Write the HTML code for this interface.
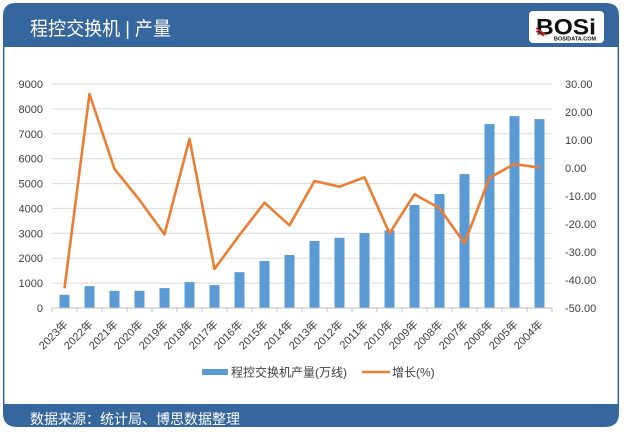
<!DOCTYPE html>
<html><head><meta charset="utf-8">
<style>
html,body{margin:0;padding:0;background:#fff;}
svg{display:block;}
text{font-family:"Liberation Sans","Noto Sans CJK SC",sans-serif;}
</style></head>
<body>
<svg width="624" height="432" viewBox="0 0 624 432" xmlns="http://www.w3.org/2000/svg">
<rect width="624" height="432" fill="#fff"/>
<!-- frame -->
<path d="M3,47 L3,16 Q3,3 16,3 L606,3 Q619,3 619,16 L619,47 Z" fill="#35669d"/>
<line x1="3.7" y1="47" x2="3.7" y2="405" stroke="#35669d" stroke-width="1.5"/>
<line x1="618.3" y1="47" x2="618.3" y2="405" stroke="#35669d" stroke-width="1.5"/>
<path d="M3,404 L619,404 L619,413 Q619,427 605,427 L17,427 Q3,427 3,413 Z" fill="#35669d"/>
<text x="30" y="35" font-size="19" fill="#fff" textLength="141" lengthAdjust="spacingAndGlyphs">程控交换机 | 产量</text>
<text x="30" y="424" font-size="14" fill="#fff">数据来源：统计局、博思数据整理</text>
<!-- logo -->
<rect x="529" y="11" width="75" height="32" rx="4" fill="#fff"/>
<text x="566" y="34.5" font-size="22" font-weight="bold" fill="#111" text-anchor="middle" textLength="60" lengthAdjust="spacingAndGlyphs">BOSi</text>
<path d="M536,28 L546,35 M536,31 L544,36" stroke="#c0302c" stroke-width="1.5"/>
<text x="575" y="40.5" font-size="5.5" font-weight="bold" fill="#111" text-anchor="middle">BOSIDATA.COM</text>
<!-- gridlines -->
<g stroke="#d9d9d9" stroke-width="1">
<line x1="52" y1="84" x2="552" y2="84"/>
<line x1="52" y1="108.9" x2="552" y2="108.9"/>
<line x1="52" y1="133.8" x2="552" y2="133.8"/>
<line x1="52" y1="158.7" x2="552" y2="158.7"/>
<line x1="52" y1="183.6" x2="552" y2="183.6"/>
<line x1="52" y1="208.4" x2="552" y2="208.4"/>
<line x1="52" y1="233.3" x2="552" y2="233.3"/>
<line x1="52" y1="258.2" x2="552" y2="258.2"/>
<line x1="52" y1="283.1" x2="552" y2="283.1"/>
</g>
<!-- bars -->
<g fill="#5b9bd5">
<rect x="59.5" y="294.8" width="10" height="13.2"/>
<rect x="84.5" y="286.1" width="10" height="21.9"/>
<rect x="109.5" y="290.8" width="10" height="17.2"/>
<rect x="134.5" y="290.8" width="10" height="17.2"/>
<rect x="159.5" y="288.1" width="10" height="19.9"/>
<rect x="184.5" y="282.1" width="10" height="25.9"/>
<rect x="209.5" y="285.1" width="10" height="22.9"/>
<rect x="234.5" y="272.2" width="10" height="35.8"/>
<rect x="259.5" y="261.0" width="10" height="47.0"/>
<rect x="284.5" y="255.0" width="10" height="53.0"/>
<rect x="309.5" y="241.0" width="10" height="67.0"/>
<rect x="334.5" y="237.8" width="10" height="70.2"/>
<rect x="359.5" y="233.1" width="10" height="74.9"/>
<rect x="384.5" y="230.3" width="10" height="77.7"/>
<rect x="409.5" y="205.0" width="10" height="103.0"/>
<rect x="434.5" y="194.0" width="10" height="114.0"/>
<rect x="459.5" y="174.1" width="10" height="133.9"/>
<rect x="484.5" y="124.1" width="10" height="183.9"/>
<rect x="509.5" y="116.1" width="10" height="191.9"/>
<rect x="534.5" y="119.1" width="10" height="188.9"/>
</g>
<!-- x axis -->
<line x1="52" y1="308" x2="552" y2="308" stroke="#bfbfbf" stroke-width="1"/>
<g stroke="#bfbfbf" stroke-width="1">
<line x1="52" y1="308" x2="52" y2="312"/><line x1="77" y1="308" x2="77" y2="312"/><line x1="102" y1="308" x2="102" y2="312"/><line x1="127" y1="308" x2="127" y2="312"/><line x1="152" y1="308" x2="152" y2="312"/><line x1="177" y1="308" x2="177" y2="312"/><line x1="202" y1="308" x2="202" y2="312"/><line x1="227" y1="308" x2="227" y2="312"/><line x1="252" y1="308" x2="252" y2="312"/><line x1="277" y1="308" x2="277" y2="312"/><line x1="302" y1="308" x2="302" y2="312"/><line x1="327" y1="308" x2="327" y2="312"/><line x1="352" y1="308" x2="352" y2="312"/><line x1="377" y1="308" x2="377" y2="312"/><line x1="402" y1="308" x2="402" y2="312"/><line x1="427" y1="308" x2="427" y2="312"/><line x1="452" y1="308" x2="452" y2="312"/><line x1="477" y1="308" x2="477" y2="312"/><line x1="502" y1="308" x2="502" y2="312"/><line x1="527" y1="308" x2="527" y2="312"/><line x1="552" y1="308" x2="552" y2="312"/>
</g>
<!-- line -->
<polyline fill="none" stroke="#ed7d31" stroke-width="2.6" stroke-linejoin="round" points="64.5,288.3 89.5,94 114.5,169 139.5,200 164.5,234.3 189.5,139 214.5,269 239.5,235 264.5,202.7 289.5,225.3 314.5,181 339.5,186.7 364.5,177.3 389.5,233.3 414.5,194.3 439.5,208.3 464.5,243.3 489.5,177.7 514.5,164 539.5,167.7"/>
<!-- left labels -->
<g font-size="11" fill="#404040" text-anchor="end">
<text x="43" y="88">9000</text>
<text x="43" y="113">8000</text>
<text x="43" y="138">7000</text>
<text x="43" y="162.7">6000</text>
<text x="43" y="187.6">5000</text>
<text x="43" y="212.4">4000</text>
<text x="43" y="237.3">3000</text>
<text x="43" y="262.2">2000</text>
<text x="43" y="287.1">1000</text>
<text x="43" y="312">0</text>
</g>
<!-- right labels -->
<g font-size="11" fill="#404040" text-anchor="start">
<text x="565" y="88">30.00</text>
<text x="565" y="116">20.00</text>
<text x="565" y="144">10.00</text>
<text x="565" y="172">0.00</text>
<text x="565" y="200">-10.00</text>
<text x="565" y="228">-20.00</text>
<text x="565" y="256">-30.00</text>
<text x="565" y="284">-40.00</text>
<text x="565" y="312">-50.00</text>
</g>
<!-- x labels -->
<g font-size="11" fill="#404040" text-anchor="end">
<text transform="translate(68.5,325) rotate(-45)">2023年</text>
<text transform="translate(93.5,325) rotate(-45)">2022年</text>
<text transform="translate(118.5,325) rotate(-45)">2021年</text>
<text transform="translate(143.5,325) rotate(-45)">2020年</text>
<text transform="translate(168.5,325) rotate(-45)">2019年</text>
<text transform="translate(193.5,325) rotate(-45)">2018年</text>
<text transform="translate(218.5,325) rotate(-45)">2017年</text>
<text transform="translate(243.5,325) rotate(-45)">2016年</text>
<text transform="translate(268.5,325) rotate(-45)">2015年</text>
<text transform="translate(293.5,325) rotate(-45)">2014年</text>
<text transform="translate(318.5,325) rotate(-45)">2013年</text>
<text transform="translate(343.5,325) rotate(-45)">2012年</text>
<text transform="translate(368.5,325) rotate(-45)">2011年</text>
<text transform="translate(393.5,325) rotate(-45)">2010年</text>
<text transform="translate(418.5,325) rotate(-45)">2009年</text>
<text transform="translate(443.5,325) rotate(-45)">2008年</text>
<text transform="translate(468.5,325) rotate(-45)">2007年</text>
<text transform="translate(493.5,325) rotate(-45)">2006年</text>
<text transform="translate(518.5,325) rotate(-45)">2005年</text>
<text transform="translate(543.5,325) rotate(-45)">2004年</text>
</g>
<!-- legend -->
<rect x="202" y="369" width="26" height="6" fill="#5b9bd5"/>
<text x="231" y="376.5" font-size="12" fill="#404040">程控交换机产量(万线)</text>
<line x1="362" y1="372" x2="390" y2="372" stroke="#ed7d31" stroke-width="2.6"/>
<text x="392" y="376.5" font-size="12" fill="#404040">增长(%)</text>
</svg>
</body></html>
